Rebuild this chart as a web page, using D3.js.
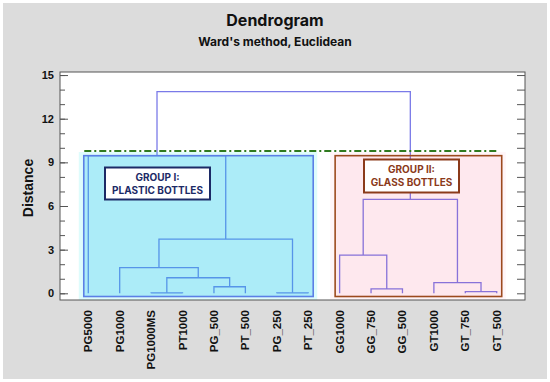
<!DOCTYPE html>
<html>
<head>
<meta charset="utf-8">
<script src="https://cdn.jsdelivr.net/npm/d3@7"></script>
<style>
  body { margin: 0; background: #fff; }
  svg { display: block; }
</style>
</head>
<body>
<div id="chart"></div>
<script>
// Dendrogram, Ward's method (Euclidean) - plastic vs glass bottles

// leaves in plotted order
var leaves = ["PG5000", "PG1000", "PG1000MS", "PT1000", "PG_500", "PT_500", "PG_250", "PT_250",
              "GG1000", "GG_750", "GG_500", "GT1000", "GT_750", "GT_500"];

// linkage: ids < 14 are leaves, id 14 + k is the cluster made at merge k
var mergeA      = [2, 6, 9, 12, 4, 11, 14, 1, 8, 21, 22, 0, 25];
var mergeB      = [3, 7, 10, 13, 5, 17, 18, 20, 16, 15, 19, 23, 24];
var mergeHeight = [0.03, 0.03, 0.3, 0.12, 0.45, 0.73, 1.07, 1.76, 2.63, 3.73, 6.46, 9.46, 13.86];

var cutHeight = 9.78;           // dash-dot cut line
var yTicks = [0, 3, 6, 9, 12, 15];

var groups = [
  {first: "PG5000", last: "PT_250", title: ["GROUP I:", "PLASTIC BOTTLES"]},
  {first: "GG1000", last: "GT_500", title: ["GROUP II:", "GLASS BOTTLES"]}
];

var W = 550, H = 382;
// plot frame (note: "top" is taken by window.top, so use a margin object)
var plot = {left: 60, right: 525, top: 72, bottom: 300};

var svg = d3.select("#chart").append("svg")
  .attr("width", W)
  .attr("height", H);

// grey panel
svg.append("rect")
  .attr("x", 3).attr("y", 3)
  .attr("width", W - 6).attr("height", H - 6)
  .attr("fill", "#dcdcdc");

// plot area
svg.append("rect")
  .attr("x", plot.left).attr("y", plot.top)
  .attr("width", plot.right - plot.left).attr("height", plot.bottom - plot.top)
  .attr("fill", "#fff");

// scales
var x = d3.scalePoint()
  .domain(leaves)
  .range([plot.left, plot.right])
  .padding(0.9);

var y = d3.scaleLinear()
  .domain([-0.46, 15.21])
  .range([plot.bottom, plot.top]);

// titles
svg.append("text")
  .attr("x", 275).attr("y", 26)
  .attr("text-anchor", "middle")
  .style("font-family", "Inter, 'Open Sans', sans-serif")
  .style("font-weight", 700)
  .style("font-size", "16px")
  .attr("fill", "#111")
  .text("Dendrogram");

svg.append("text")
  .attr("x", 275).attr("y", 46)
  .attr("text-anchor", "middle")
  .style("font-family", "Inter, 'Open Sans', sans-serif")
  .style("font-weight", 700)
  .style("font-size", "12px")
  .attr("fill", "#111")
  .text("Ward's method, Euclidean");

// build node positions from the linkage
var n = leaves.length;
var nodeX = leaves.map(function(d) { return x(d); });
var nodeH = leaves.map(function() { return 0; });
var links = [];
for (var k = 0; k < mergeA.length; k++) {
  var a = mergeA[k], b = mergeB[k], h = mergeHeight[k];
  links.push({x1: nodeX[a], h1: nodeH[a], x2: nodeX[b], h2: nodeH[b], h: h});
  nodeX.push((nodeX[a] + nodeX[b]) / 2);
  nodeH.push(h);
}

// dendrogram (u-shaped links)
svg.append("g")
  .selectAll("path")
  .data(links)
  .enter()
  .append("path")
  .attr("d", function(d) {
    return "M" + d.x1 + "," + y(d.h1) + "V" + y(d.h) + "H" + d.x2 + "V" + y(d.h2);
  })
  .attr("fill", "none")
  .attr("stroke", "#7a7ae8")
  .attr("stroke-width", 1.3);

// group shading (drawn over the lines, semi transparent)
var outerFill = ["rgba(0,230,230,0.13)", "rgba(250,120,150,0.07)"];
var innerFill = ["rgba(30,190,235,0.26)", "rgba(240,0,50,0.05)"];
var borderCol = ["#5b7fe6", "#9c4a1e"];
var textCol   = ["#1c2a66", "#8b3a1a"];

groups.forEach(function(g, i) {
  var x0 = x(g.first), x1 = x(g.last);
  svg.append("rect")
    .attr("x", x0 - 9.5).attr("y", y(cutHeight) + 1)
    .attr("width", x1 - x0 + 18.5).attr("height", plot.bottom - y(cutHeight) - 1)
    .attr("fill", outerFill[i]);
  svg.append("rect")
    .attr("x", x0 - 4.5).attr("y", y(9.46))
    .attr("width", x1 - x0 + 9.5).attr("height", y(-0.22) - y(9.46))
    .attr("fill", innerFill[i])
    .attr("stroke", borderCol[i])
    .attr("stroke-width", 1.6);
});

// cut line
svg.append("line")
  .attr("x1", x(leaves[0]) - 4).attr("x2", x(leaves[n - 1]))
  .attr("y1", y(cutHeight)).attr("y2", y(cutHeight))
  .attr("stroke", "#2f7a1f")
  .attr("stroke-width", 2)
  .attr("stroke-dasharray", "7,3,2,3");

// group label boxes
var boxPos = [{cx: 157.5, y0: 167.5, w: 105, h: 32}, {cx: 411.5, y0: 159.5, w: 95, h: 33}];
groups.forEach(function(g, i) {
  var b = boxPos[i];
  svg.append("rect")
    .attr("x", b.cx - b.w / 2).attr("y", b.y0)
    .attr("width", b.w).attr("height", b.h)
    .attr("fill", "#fff")
    .attr("stroke", textCol[i])
    .attr("stroke-width", 2);
  svg.append("g")
    .selectAll("text")
    .data(g.title)
    .enter()
    .append("text")
    .attr("x", b.cx)
    .attr("y", function(d, j) { return b.y0 + 13 + j * 13; })
    .attr("text-anchor", "middle")
    .style("font-family", "Inter, 'Open Sans', sans-serif")
    .style("font-weight", 700)
    .style("font-size", "10px")
    .attr("fill", textCol[i])
    .text(function(d) { return d; });
});

// axes: ticks point inward
var axisCol = "#555";
var yAxis = d3.axisLeft(y)
  .tickValues(yTicks)
  .tickSize(-8)
  .tickPadding(6)
  .tickFormat(d3.format("d"));

var gy = svg.append("g")
  .attr("transform", "translate(" + plot.left + ",0)")
  .call(yAxis);
gy.select(".domain").remove();
gy.selectAll("line").attr("stroke", axisCol);
gy.selectAll("text")
  .style("font-family", "'Liberation Sans', Arial, sans-serif")
  .style("font-weight", 700)
  .style("font-size", "11px")
  .attr("fill", "#111");

var gyMinor = svg.append("g")
  .attr("transform", "translate(" + plot.left + ",0)")
  .call(d3.axisLeft(y).tickValues(d3.range(0, 16)).tickSize(-5).tickFormat(""));
gyMinor.select(".domain").remove();
gyMinor.selectAll("line").attr("stroke", axisCol);

var gyRight = svg.append("g")
  .attr("transform", "translate(" + plot.right + ",0)")
  .call(d3.axisRight(y).tickValues(d3.range(0, 16)).tickSize(-8).tickFormat(""));
gyRight.select(".domain").remove();
gyRight.selectAll("line").attr("stroke", axisCol);

// frame
svg.append("rect")
  .attr("x", plot.left).attr("y", plot.top)
  .attr("width", plot.right - plot.left).attr("height", plot.bottom - plot.top)
  .attr("fill", "none")
  .attr("stroke", axisCol)
  .attr("stroke-width", 1);

// y title
svg.append("text")
  .attr("transform", "translate(33,188) rotate(-90)")
  .attr("text-anchor", "middle")
  .style("font-family", "'Liberation Sans', Arial, sans-serif")
  .style("font-weight", 700)
  .style("font-size", "14px")
  .attr("fill", "#111")
  .text("Distance");

// leaf labels
svg.append("g")
  .selectAll("text")
  .data(leaves)
  .enter()
  .append("text")
  .attr("transform", function(d) { return "translate(" + x(d) + ",310) rotate(-90)"; })
  .attr("dy", "0.35em")
  .attr("text-anchor", "end")
  .style("font-family", "'Liberation Sans', Arial, sans-serif")
  .style("font-weight", 700)
  .style("font-size", "11.5px")
  .attr("fill", "#111")
  .text(function(d) { return d; });
</script>
</body>
</html>
